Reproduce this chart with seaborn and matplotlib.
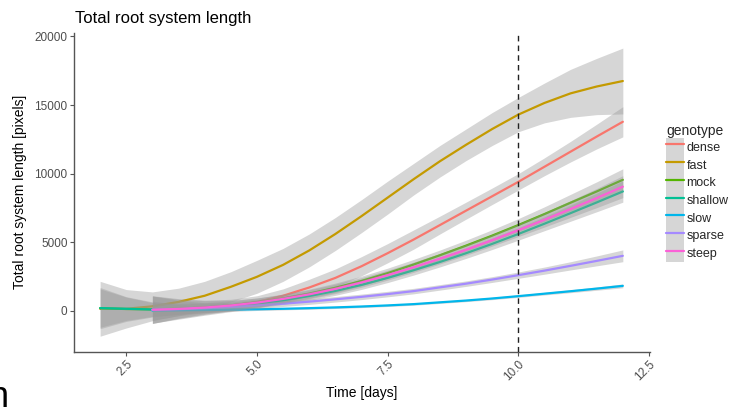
import numpy as np
import pandas as pd
import matplotlib
matplotlib.use("Agg")
import matplotlib.pyplot as plt
from matplotlib.patches import Rectangle
from matplotlib.lines import Line2D
import seaborn as sns

# ==================================
# data
# ==================================
genotypes = ["dense", "fast", "mock", "shallow", "slow", "sparse", "steep"]
colors = ["#F8766D", "#C49A00", "#53B400", "#00C094", "#00B6EB", "#A58AFF", "#FB61D7"]

days_from2 = [2.0, 2.5, 3.0, 3.5, 4.0, 4.5, 5.0, 5.5, 6.0, 6.5, 7.0,
              7.5, 8.0, 8.5, 9.0, 9.5, 10.0, 10.5, 11.0, 11.5, 12.0]
days_from3 = days_from2[2:]

dense = [100, 140, 230, 390, 650, 1100, 1700, 2400, 3250, 4200, 5200,
         6250, 7300, 8350, 9400, 10500, 11600, 12700, 13780]
dense_ci = [1000, 750, 550, 450, 450, 500, 600, 650, 700, 700, 700,
            650, 620, 600, 600, 650, 750, 900, 1100]

fast = [150, 150, 330, 650, 1100, 1750, 2480, 3350, 4400, 5600, 6900,
        8250, 9600, 10900, 12100, 13250, 14300, 15150, 15850, 16350, 16750]
fast_ci = [2000, 1400, 1050, 1000, 1050, 1100, 1200, 1200, 1200, 1200, 1200,
           1200, 1150, 1150, 1150, 1200, 1250, 1450, 1750, 2050, 2400]

mock = [200, 130, 100, 150, 250, 400, 620, 900, 1250, 1680, 2180,
        2750, 3380, 4050, 4750, 5480, 6250, 7050, 7880, 8700, 9550]
mock_ci = [1500, 900, 550, 400, 350, 330, 320, 320, 330, 340, 350,
           360, 370, 380, 400, 430, 470, 530, 610, 700, 800]

shallow = [200, 150, 100, 120, 200, 330, 520, 770, 1080, 1450, 1890,
           2400, 2960, 3560, 4200, 4880, 5600, 6350, 7120, 7900, 8700]
shallow_ci = [1400, 850, 500, 380, 330, 310, 300, 300, 310, 320, 330,
              340, 350, 360, 380, 410, 450, 510, 590, 680, 780]

slow = [20, 40, 60, 85, 115, 150, 195, 250, 315, 395, 490,
        620, 750, 900, 1070, 1250, 1430, 1620, 1820]
slow_ci = [700, 400, 200, 120, 90, 80, 80, 80, 80, 80, 80,
           80, 80, 85, 90, 95, 105, 120, 140]

sparse = [80, 120, 190, 280, 390, 520, 670, 840, 1020, 1220, 1440,
          1710, 1980, 2280, 2600, 2930, 3280, 3640, 4010]
sparse_ci = [1000, 650, 400, 280, 220, 200, 200, 200, 200, 200, 200,
             200, 200, 210, 230, 260, 300, 360, 430]

steep = [80, 140, 240, 390, 600, 870, 1200, 1600, 2070, 2600, 3180,
         3800, 4450, 5150, 5880, 6640, 7420, 8220, 9050]
steep_ci = [1000, 700, 500, 380, 330, 320, 330, 340, 350, 360, 370,
            380, 400, 430, 470, 530, 610, 700, 800]

x_ticks = [2.5, 5.0, 7.5, 10.0, 12.5]
y_ticks = [0, 5000, 10000, 15000, 20000]
marker_day = 10.0

series = {
    "dense": (days_from3, dense, dense_ci),
    "fast": (days_from2, fast, fast_ci),
    "mock": (days_from2, mock, mock_ci),
    "shallow": (days_from2, shallow, shallow_ci),
    "slow": (days_from3, slow, slow_ci),
    "sparse": (days_from3, sparse, sparse_ci),
    "steep": (days_from3, steep, steep_ci),
}

rows = []
for g in genotypes:
    d, v, c = series[g]
    for di, vi, ci in zip(d, v, c):
        rows.append({"genotype": g, "day": di, "length": vi,
                     "lo": vi - ci, "hi": vi + ci})
df = pd.DataFrame(rows)

# ==================================
# plot
# ==================================
sns.set_theme(style="white")
plt.rcParams["font.family"] = ["Liberation Sans", "DejaVu Sans"]

W, H = 737, 407
fig = plt.figure(figsize=(W / 100, H / 100), dpi=100)
ax = fig.add_axes([74 / W, 1 - 352 / H, (650 - 74) / W, (352 - 33) / H])

band = "#999999"
for i, (g, col) in enumerate(zip(genotypes, colors)):
    sub = df[df["genotype"] == g]
    ax.fill_between(sub["day"], sub["lo"], sub["hi"], color=band,
                    alpha=0.4, lw=0, zorder=2 * i + 1)
    sns.lineplot(data=sub, x="day", y="length", color=col, lw=1.6,
                 ax=ax, legend=False, zorder=2 * i + 2, errorbar=None)

ax.axvline(marker_day, color="#222222", lw=1.0, ls=(0, (4, 3)), zorder=30)

ax.set_xlim(1.5, 12.52)
ax.set_ylim(-3000, 20250)
ax.set_xticks(x_ticks)
ax.set_xticklabels([f"{t:.1f}" for t in x_ticks], rotation=45,
                   ha="right", va="top", rotation_mode="anchor")
ax.set_yticks(y_ticks)
ax.set_yticklabels([str(t) for t in y_ticks])
ax.set_xlabel("")
ax.set_ylabel("")

for s in ["top", "right"]:
    ax.spines[s].set_visible(False)
for s in ["left", "bottom"]:
    ax.spines[s].set_color("#555555")
    ax.spines[s].set_linewidth(1.0)
ax.tick_params(axis="both", which="both", length=2.6, width=0.8,
               color="#555555", labelcolor="#4D4D4D", labelsize=8.5,
               pad=2, direction="out", left=True, bottom=True)

fig.text(75 / W, 1 - 18 / H, "Total root system length", fontsize=12,
         ha="left", va="center", color="black")
fig.text(362 / W, 1 - 393 / H, "Time [days]", fontsize=10,
         ha="center", va="center", color="black")
fig.text(20 / W, 1 - 192 / H, "Total root system length [pixels]",
         fontsize=10, rotation=90, ha="center", va="center", color="black")

# cut-off glyph at the bottom-left edge
fig.text(-12 / W, -8 / H, "h", fontsize=26, ha="left", va="bottom",
         color="black")

handles = [(Rectangle((0, 0), 1, 1, facecolor="#D6D6D6", edgecolor="none"),
            Line2D([], [], color=c, lw=1.6)) for c in colors]
leg = fig.legend(handles, genotypes, title="genotype",
                 loc="upper left", bbox_to_anchor=(666 / W, 1 - 124 / H),
                 bbox_transform=fig.transFigure, frameon=False,
                 fontsize=9, title_fontsize=10, labelspacing=0,
                 handleheight=1.8, handlelength=1.45, handletextpad=0.2,
                 borderpad=0, borderaxespad=0, alignment="left")

fig.savefig("out.png", dpi=100)
